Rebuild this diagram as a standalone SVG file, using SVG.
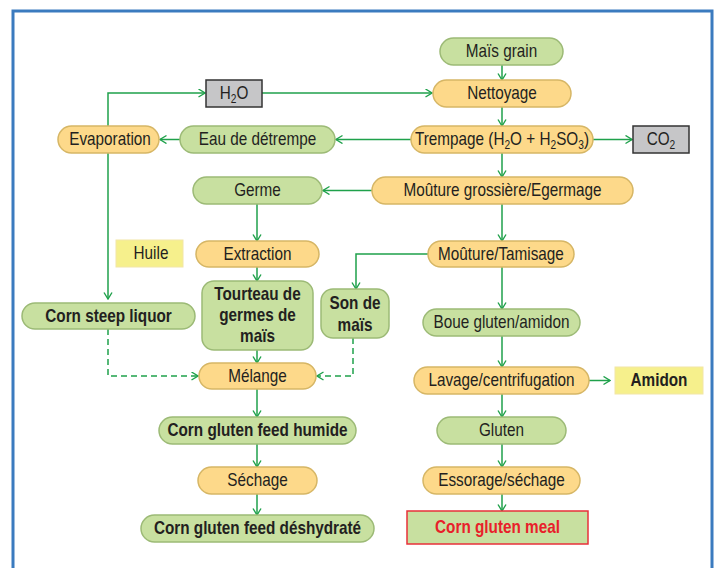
<svg xmlns="http://www.w3.org/2000/svg" width="716" height="568" viewBox="0 0 716 568">
<defs>
<marker id="arr" markerWidth="8" markerHeight="10" refX="7" refY="4.5" orient="auto" markerUnits="userSpaceOnUse">
<path d="M0.5,0.5 L7,4.5 L0.5,8.5" fill="none" stroke="#1fa14b" stroke-width="1.4"/>
</marker>
<style>
.o{fill:#fdd98a;stroke:#d6b665;stroke-width:1.5}
.g{fill:#c8e0a0;stroke:#9cba76;stroke-width:1.5}
.gr{fill:#c6c6c8;stroke:#333;stroke-width:1.5}
.y{fill:#f6f08c;stroke:#f2e6a6;stroke-width:1}
.red{fill:#c8e0a0;stroke:#e8303a;stroke-width:1.5}
text{font-family:"Liberation Sans",Arial,sans-serif;font-size:18px;fill:#231f20;text-anchor:middle;transform-box:fill-box;transform-origin:center;transform:scaleX(0.85)}
.b{font-weight:bold}
.rt{fill:#e8202a;font-weight:bold}
.s{font-size:12px}
.c path,.c line,.c polyline{fill:none;stroke:#1fa14b;stroke-width:1.5}
.d{stroke-dasharray:6 4}
</style>
</defs>
<rect x="0" y="0" width="716" height="568" fill="#fff"/>
<rect x="13" y="11" width="699" height="600" fill="none" stroke="#3b7bbf" stroke-width="3"/>

<g class="c" id="connectors">
<line x1="502" y1="65" x2="502" y2="80" marker-end="url(#arr)"/>
<line x1="502" y1="107" x2="502" y2="126" marker-end="url(#arr)"/>
<line x1="502" y1="153" x2="502" y2="177" marker-end="url(#arr)"/>
<line x1="502" y1="204" x2="502" y2="241" marker-end="url(#arr)"/>
<line x1="502" y1="267" x2="502" y2="309" marker-end="url(#arr)"/>
<line x1="502" y1="336" x2="502" y2="367" marker-end="url(#arr)"/>
<line x1="502" y1="394" x2="502" y2="417" marker-end="url(#arr)"/>
<line x1="502" y1="444" x2="502" y2="467" marker-end="url(#arr)"/>
<line x1="502" y1="494" x2="502" y2="511" marker-end="url(#arr)"/>
<line x1="593" y1="139.5" x2="632" y2="139.5" marker-end="url(#arr)"/>
<line x1="411" y1="139.5" x2="336" y2="139.5" marker-end="url(#arr)"/>
<line x1="180" y1="139.5" x2="160" y2="139.5" marker-end="url(#arr)"/>
<polyline points="108,126 108,93 205,93" marker-end="url(#arr)"/>
<line x1="262" y1="93" x2="432" y2="93" marker-end="url(#arr)"/>
<line x1="372" y1="190.5" x2="323" y2="190.5" marker-end="url(#arr)"/>
<line x1="257" y1="204" x2="257" y2="241" marker-end="url(#arr)"/>
<line x1="257" y1="267" x2="257" y2="281" marker-end="url(#arr)"/>
<line x1="257" y1="350" x2="257" y2="363" marker-end="url(#arr)"/>
<line x1="257" y1="389" x2="257" y2="417" marker-end="url(#arr)"/>
<line x1="257" y1="444" x2="257" y2="467" marker-end="url(#arr)"/>
<line x1="257" y1="494" x2="257" y2="515" marker-end="url(#arr)"/>
<line x1="108" y1="153" x2="108" y2="299" marker-end="url(#arr)"/>
<polyline points="428,254 356,254 356,289" marker-end="url(#arr)"/>
<line x1="589" y1="380.5" x2="610" y2="380.5" marker-end="url(#arr)"/>
<polyline class="d" points="108,329 108,376 198,376" marker-end="url(#arr)"/>
<polyline class="d" points="353,338 353,376 317,376" marker-end="url(#arr)"/>
</g>

<g id="mais"><rect class="g" x="440" y="38" width="123" height="27" rx="13.5"/><text x="501.5" y="57.5">Maïs grain</text></g>
<g id="nettoyage"><rect class="o" x="433" y="80" width="138" height="27" rx="13.5"/><text x="502" y="99.5">Nettoyage</text></g>
<g id="trempage"><rect class="o" x="411" y="126" width="182" height="27" rx="13.5"/><text x="502" y="145.5">Trempage (H<tspan class="s" dy="4">2</tspan><tspan dy="-4">O + H</tspan><tspan class="s" dy="4">2</tspan><tspan dy="-4">SO</tspan><tspan class="s" dy="4">3</tspan><tspan dy="-4">)</tspan></text></g>
<g id="co2"><rect class="gr" x="633" y="126" width="56" height="27"/><text x="661" y="145.5">CO<tspan class="s" dy="4">2</tspan></text></g>
<g id="h2o"><rect class="gr" x="206" y="80" width="56" height="27"/><text x="234" y="99.5">H<tspan class="s" dy="4">2</tspan><tspan dy="-4">O</tspan></text></g>
<g id="eau"><rect class="g" x="180" y="126" width="155" height="27" rx="13.5"/><text x="257.5" y="145.5">Eau de détrempe</text></g>
<g id="evaporation"><rect class="o" x="58" y="126" width="101" height="27" rx="13.5"/><text x="110" y="145.5">Evaporation</text></g>
<g id="mouture_g"><rect class="o" x="372" y="177" width="261" height="27" rx="13.5"/><text x="502.5" y="196.5">Moûture grossière/Egermage</text></g>
<g id="germe"><rect class="g" x="193" y="177" width="129" height="27" rx="13.5"/><text x="257.5" y="196.5">Germe</text></g>
<g id="extraction"><rect class="o" x="196" y="241" width="123" height="26" rx="13"/><text x="257.5" y="260">Extraction</text></g>
<g id="huile"><rect class="y" x="116" y="240" width="67" height="27"/><text x="151" y="259.5">Huile</text></g>
<g id="mouture_t"><rect class="o" x="428" y="241" width="146" height="26" rx="13"/><text x="501" y="260">Moûture/Tamisage</text></g>
<g id="csl"><rect class="g" x="22" y="303" width="173" height="26" rx="13"/><text class="b" x="108.5" y="322">Corn steep liquor</text></g>
<g id="tourteau"><rect class="g" x="202" y="281" width="111" height="69" rx="12"/><text class="b" x="257.5" y="300">Tourteau de</text><text class="b" x="257.5" y="321">germes de</text><text class="b" x="257.5" y="342">maïs</text></g>
<g id="son"><rect class="g" x="321" y="289" width="68" height="49" rx="12"/><text class="b" x="355" y="309">Son de</text><text class="b" x="355" y="331">maïs</text></g>
<g id="boue"><rect class="g" x="423" y="309" width="157" height="27" rx="13.5"/><text x="501.5" y="328.5">Boue gluten/amidon</text></g>
<g id="melange"><rect class="o" x="199" y="363" width="117" height="26" rx="13"/><text x="257.5" y="382">Mélange</text></g>
<g id="lavage"><rect class="o" x="414" y="367" width="175" height="27" rx="13.5"/><text x="501.5" y="386.5">Lavage/centrifugation</text></g>
<g id="amidon"><rect class="y" x="615" y="367" width="88" height="27"/><text class="b" x="659" y="386.5">Amidon</text></g>
<g id="cgf_humide"><rect class="g" x="159" y="417" width="197" height="27" rx="13.5"/><text class="b" x="257.5" y="436.5">Corn gluten feed humide</text></g>
<g id="gluten"><rect class="g" x="437" y="417" width="129" height="27" rx="13.5"/><text x="501.5" y="436.5">Gluten</text></g>
<g id="sechage"><rect class="o" x="198" y="467" width="119" height="27" rx="13.5"/><text x="257.5" y="486.5">Séchage</text></g>
<g id="essorage"><rect class="o" x="423" y="467" width="157" height="27" rx="13.5"/><text x="501.5" y="486.5">Essorage/séchage</text></g>
<g id="cgf_desh"><rect class="g" x="141" y="515" width="233" height="27" rx="13.5"/><text class="b" x="257.5" y="534.5">Corn gluten feed déshydraté</text></g>
<g id="cgm"><rect class="red" x="407" y="511" width="181" height="33"/><text class="rt" x="497.5" y="533.5">Corn gluten meal</text></g>
</svg>
